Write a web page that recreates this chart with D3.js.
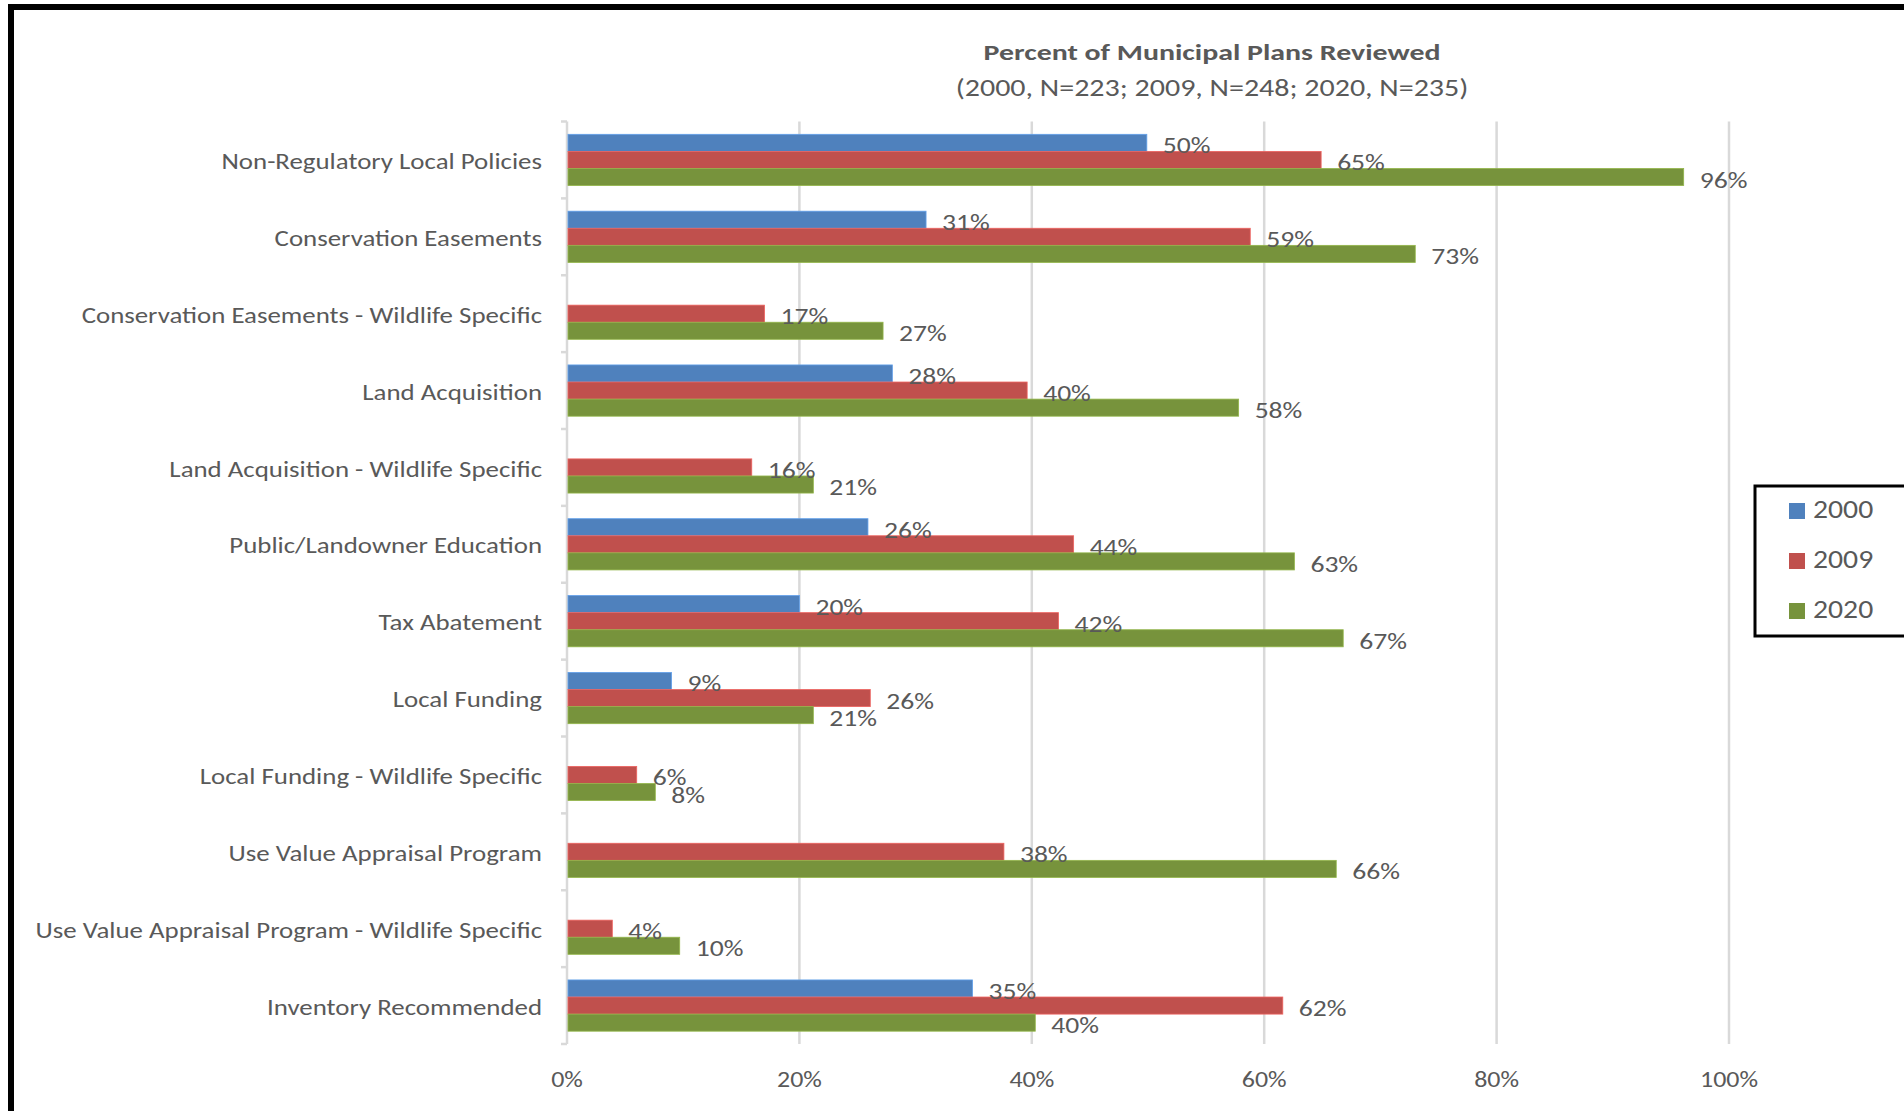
<!DOCTYPE html>
<html>
<head>
<meta charset="utf-8">
<script src="https://cdn.jsdelivr.net/npm/d3@7"></script>
<style>
  html, body { margin: 0; padding: 0; background: #fff; }
  svg { display: block; }
  text { font-family: Carlito, Lato, "Open Sans", sans-serif; fill: #595959; }
</style>
</head>
<body>
<svg id="chart" width="1904" height="1111"></svg>
<script>
const categories = [
  "Non-Regulatory Local Policies",
  "Conservation Easements",
  "Conservation Easements - Wildlife Specific",
  "Land Acquisition",
  "Land Acquisition - Wildlife Specific",
  "Public/Landowner Education",
  "Tax Abatement",
  "Local Funding",
  "Local Funding - Wildlife Specific",
  "Use Value Appraisal Program",
  "Use Value Appraisal Program - Wildlife Specific",
  "Inventory Recommended"
];
const seriesNames = ["2000", "2009", "2020"];
const values2000 = [0.499, 0.309, null, 0.280, null, 0.259, 0.200, 0.090, null, null, null, 0.349];
const values2009 = [0.649, 0.588, 0.170, 0.396, 0.159, 0.436, 0.423, 0.261, 0.060, 0.376, 0.039, 0.616];
const values2020 = [0.961, 0.730, 0.272, 0.578, 0.212, 0.626, 0.668, 0.212, 0.076, 0.662, 0.097, 0.403];
const xTicks = [0, 0.2, 0.4, 0.6, 0.8, 1.0];
const colors = ["#4f81bd", "#c0504d", "#77933c"];
const titleText = "Percent of Municipal Plans Reviewed";
const subtitleText = "(2000, N=223; 2009, N=248; 2020, N=235)";

const seriesValues = [values2000, values2009, values2020];
const svg = d3.select("#chart");

// horizontally stretched text helper (reference glyphs are wide)
function stext(parent, x, y, str, size, sx, anchor, weight) {
  const t = parent.append("text")
    .attr("transform", `translate(${x},${y}) scale(${sx},1)`)
    .attr("text-anchor", anchor || "start")
    .attr("dominant-baseline", "middle")
    .attr("font-size", size)
    .text(str);
  if (weight) t.attr("font-weight", weight);
  return t;
}

// outer border
svg.append("rect").attr("x", 8).attr("y", 4).attr("width", 1896).attr("height", 6).attr("fill", "#000");
svg.append("rect").attr("x", 8).attr("y", 4).attr("width", 6).attr("height", 1107).attr("fill", "#000");

const plot = { left: 567, right: 1729, top: 121.5, bottom: 1044 };

const x = d3.scaleLinear().domain([0, 1]).range([plot.left, plot.right]);
// Excel gap width 150%: band = 4.5 bar widths; 3 bars occupy 3/4.5
const yBand = d3.scaleBand().domain(categories).range([plot.top, plot.bottom]);
const ySeries = d3.scaleBand().domain(seriesNames)
  .range([0, yBand.bandwidth() * 3 / 4.5]);
const groupOffset = yBand.bandwidth() * 0.75 / 4.5;

// gridlines
svg.append("g").selectAll("line").data(xTicks.slice(1)).join("line")
  .attr("x1", d => x(d)).attr("x2", d => x(d))
  .attr("y1", plot.top).attr("y2", plot.bottom)
  .attr("stroke", "#d9d9d9").attr("stroke-width", 2.5);

// y axis line and ticks
svg.append("line").attr("x1", plot.left).attr("x2", plot.left)
  .attr("y1", plot.top).attr("y2", plot.bottom)
  .attr("stroke", "#d9d9d9").attr("stroke-width", 2.5);
const boundaries = categories.map(c => yBand(c)).concat([plot.bottom]);
svg.append("g").selectAll("line").data(boundaries).join("line")
  .attr("x1", plot.left - 6).attr("x2", plot.left)
  .attr("y1", d => d).attr("y2", d => d)
  .attr("stroke", "#d9d9d9").attr("stroke-width", 2.5);

// bars
const gBars = svg.append("g");
const gLabels = svg.append("g");
seriesNames.forEach((s, si) => {
  const data = categories.map((c, i) => ({ c, v: seriesValues[si][i] })).filter(d => d.v != null);
  gBars.append("g").selectAll("rect").data(data).join("rect")
    .attr("x", x(0) + 1)
    .attr("y", d => yBand(d.c) + groupOffset + ySeries(s))
    .attr("width", d => x(d.v) - x(0) - 1)
    .attr("height", ySeries.bandwidth())
    .attr("fill", colors[si])
    .attr("stroke", d3.color(colors[si]).brighter(0.6)).attr("stroke-width", 0.8);
  data.forEach(d => {
    stext(gLabels, x(d.v) + 16,
      yBand(d.c) + groupOffset + ySeries(s) + ySeries.bandwidth() / 2 + 5,
      d3.format(".0%")(d.v), 23, 1.2);
  });
});

// category labels
categories.forEach(c => {
  stext(svg, 542, yBand(c) + yBand.bandwidth() / 2 + 4, c, 21.5, 1.25, "end");
});

// x tick labels
xTicks.forEach(t => {
  stext(svg, x(t), 1082, d3.format(".0%")(t), 22, 1.18, "middle");
});

// title
stext(svg, 1212, 54, titleText, 23, 1.3, "middle", "bold");
stext(svg, 1212, 90, subtitleText, 24, 1.25, "middle");

// legend
const lg = svg.append("g");
lg.append("rect").attr("x", 1755).attr("y", 486).attr("width", 160).attr("height", 150)
  .attr("fill", "#fff").attr("stroke", "#000").attr("stroke-width", 3);
seriesNames.forEach((s, i) => {
  const cy = 511 + i * 50;
  lg.append("rect").attr("x", 1789).attr("y", cy - 8).attr("width", 16).attr("height", 16).attr("fill", colors[i]);
  stext(lg, 1813, cy + 1, s, 27, 1.1);
});
</script>
</body>
</html>
